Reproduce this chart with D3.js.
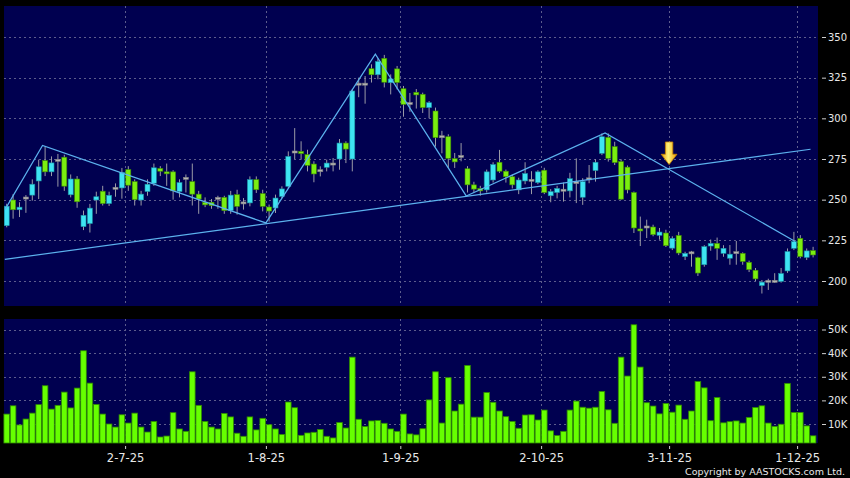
<!DOCTYPE html>
<html>
<head>
<meta charset="utf-8">
<script src="https://cdnjs.cloudflare.com/ajax/libs/d3/7.8.5/d3.min.js"></script>
<style>
body { margin: 0; background: #000; }
text { font-family: "DejaVu Sans", Verdana, sans-serif; fill: #e8e8e8; }
</style>
</head>
<body>
<div id="chart"></div>
<script>
var dates = [
  "4-6-25","5-6-25","6-6-25","9-6-25","10-6-25","11-6-25","12-6-25","13-6-25","16-6-25","17-6-25",
  "18-6-25","19-6-25","20-6-25","23-6-25","24-6-25","25-6-25","26-6-25","27-6-25","30-6-25",
  "2-7-25","3-7-25","4-7-25","7-7-25","8-7-25","9-7-25","10-7-25","11-7-25","14-7-25","15-7-25",
  "16-7-25","17-7-25","18-7-25","21-7-25","22-7-25","23-7-25","24-7-25","25-7-25","28-7-25","29-7-25",
  "30-7-25","31-7-25",
  "1-8-25","4-8-25","5-8-25","6-8-25","7-8-25","8-8-25","11-8-25","12-8-25","13-8-25","14-8-25",
  "15-8-25","18-8-25","19-8-25","20-8-25","21-8-25","22-8-25","25-8-25","26-8-25","27-8-25","28-8-25",
  "29-8-25",
  "1-9-25","2-9-25","3-9-25","4-9-25","5-9-25","8-9-25","9-9-25","10-9-25","11-9-25","12-9-25",
  "15-9-25","16-9-25","17-9-25","18-9-25","19-9-25","22-9-25","23-9-25","24-9-25","25-9-25","26-9-25",
  "29-9-25","30-9-25",
  "2-10-25","3-10-25","6-10-25","8-10-25","9-10-25","10-10-25","13-10-25","14-10-25","15-10-25","16-10-25",
  "17-10-25","20-10-25","21-10-25","22-10-25","23-10-25","24-10-25","27-10-25","28-10-25","30-10-25","31-10-25",
  "3-11-25","4-11-25","5-11-25","6-11-25","7-11-25","10-11-25","11-11-25","12-11-25","13-11-25","14-11-25",
  "17-11-25","18-11-25","19-11-25","20-11-25","21-11-25","24-11-25","25-11-25","26-11-25","27-11-25","28-11-25",
  "1-12-25","2-12-25","3-12-25"
];

var open = [
  234,249.8,243.8,251,252.8,261.5,274,267.1,274.2,276.1,
  253,262.7,233.4,235.3,249.8,255.2,247.6,257,257.2,268.5,
  261.1,249.8,255,260.1,269.2,267.1,267.1,255,263.1,261.1,
  253.4,248.4,248.4,250.8,251.4,243.3,253.1,248,248,262.3,
  253.7,245.5,244.9,252,258.2,279.3,279.7,277.7,271.9,267.8,
  269.9,271.9,275,284.8,275,321,321,330.5,326.8,336.9,
  321.9,330.4,318.2,309.1,316,314.8,306.6,304.5,288.7,288.7,
  275.2,276.6,269,259.1,256.9,256,262.1,273,267.5,264.1,
  256,261.5,261.9,260.5,268.1,252.4,254.4,255.8,255.4,260.5,
  251.5,262.8,267.9,278.5,288.3,282.6,273.4,270,254.4,232,
  233.2,233.2,228.1,229.5,220.2,228,215,217.3,214.3,210,
  221.5,223.1,217,214,217.4,217,211.5,206.6,197.2,199.8,
  199.8,199.8,206.2,220.1,226.2,214.5,218.7
];
var high = [
  247.5,253.4,248.4,252.8,262.5,274.6,282.8,276.6,278.1,277.6,
  265.5,264.5,243.3,247.4,254.9,258.5,254.9,260,269.5,270.6,
  262.5,255.4,262.5,272.2,270.6,272.2,268.1,262.5,265.5,272.2,
  255.4,251.4,250.4,252.4,252.4,255.4,256.1,251,264.3,264.3,
  256.1,247,253.1,258.2,279.7,294,285.9,280.7,273.6,270.5,
  274.6,275.6,287.3,285.9,317.8,325,326,333.2,336.9,339,
  327,332.2,319.9,315.6,318,315.8,310.6,306.6,292.3,290.2,
  278.7,284.8,270.6,261,258.5,268.5,273,280.6,268.5,265.5,
  263.5,273,267.5,268.1,269.6,256.5,258.5,260.5,266.5,275.4,
  263.2,271.3,274.8,290.7,290.7,285.6,274.8,271,255,239.6,
  237.7,234.6,232.6,231.5,227.5,230.2,218,218.5,214.9,222,
  225.5,226.7,222,222.1,224.6,217.6,212.5,208,200.6,201.4,
  204.8,208,220,230.2,228.2,220,221
];
var low = [
  233,238.3,239.3,241.9,249.4,250.4,264.5,264.5,258,255.4,
  251.4,245,231.3,229.8,241.3,246.4,246.1,251.8,250.6,255.4,
  246.4,246.4,252.4,258.5,264.5,258.5,250,251.4,254.4,246.4,
  241.3,245.4,244.4,244.4,241.3,241.3,240.8,243.9,245.9,254.1,
  242.8,236.5,241.8,251,257.2,275,274.6,267.4,260.7,264.3,
  267.4,267.4,268.4,272.5,267.4,313,309,322,324,319,
  314.7,317.8,301,304,306,303.3,300,282.6,278.5,269.5,
  269.5,273.6,254.4,254.4,252.4,254.4,260.5,266.5,260.5,256.9,
  253.4,259.5,253.4,259.5,253.4,248.4,250.8,248.8,251.4,247.9,
  246.8,260.1,261.1,277.4,273.4,271.3,249.9,253.9,229.5,221.5,
  226.4,227.5,225.4,220.9,219,215.9,212.9,208.8,203.1,208.8,
  218.6,213,214.9,210,210,210,205.5,200,192.3,194.5,
  198.8,199,205,219,213.9,212.9,214.5
];
var close = [
  246,243.8,245.4,251,259.5,270.2,267.1,272.6,274.2,258.3,
  262.7,248.7,240.4,244.8,251.8,247.6,252.7,257,266.8,258.9,
  250,253.4,259.5,269.6,267.5,265.9,255.4,260.5,263.1,253.4,
  250.4,246.8,246.4,250.8,243.3,252.8,245.9,248,262.3,256.1,
  245.9,243,251,256.6,276.6,279.3,278.3,271.1,265.8,267.8,
  272.5,271.9,284.8,281.1,316.8,321,321,326.8,334.9,322.2,
  324.2,322,308.6,309.1,314.4,306.6,309.6,288.1,288.7,275.4,
  273.2,276.6,259.1,256.5,255.4,267.1,271.6,267.5,264.1,259.1,
  262.1,266.1,261.9,267.1,254.4,255,256.9,255.8,262.9,260.5,
  261.1,262.8,273,288.7,275.4,272.8,250.3,256,232.6,231,
  233.2,228.5,230.1,221.7,226.2,217.2,217,217.3,204.9,221.1,
  223.1,220.1,220.1,216.5,217.4,212,207,201.3,199.3,199.8,
  199.8,204.6,218.1,224.2,215,218.5,216
];
// volume in thousands
var volume = [
  14.2,17.7,9.6,12.1,14.6,18.2,26.2,16.3,17.9,23.5,
  16.8,25.2,41,27.3,18.3,14.2,10,8.7,13.9,10.4,
  14.6,8.7,6.6,11.1,4.5,4.9,14.8,7.9,6.9,32.1,
  17.9,11.1,8.7,7.9,14.5,13,6.1,4.8,13,7.5,
  12.4,9.7,7.9,5.6,19.3,16.9,5.2,6.2,6.5,7.7,
  4.8,4.1,10.6,8.3,38.3,12,8.9,11.3,11.5,10.3,
  7.9,6.9,14.2,5.8,5.4,8,20.2,32.1,10.4,29.6,
  15.5,18.4,34.8,12.9,12.9,23.3,19.2,15.5,13.1,11.1,
  8.2,13.8,13.9,11.7,15.9,7.1,5.1,6.9,15.9,19.7,
  17.1,16.7,17.1,23.8,16,10.3,38.3,30.3,52,34.1,
  19,17.6,14.3,18.7,15,18,12,15.5,28,25.3,
  11.4,21.2,10.5,11,11.3,10.4,12.8,17,17.7,10.4,
  9,9.9,27.2,14.9,14.9,9.2,5
];

var tickDates = ["2-7-25","1-8-25","1-9-25","2-10-25","3-11-25","1-12-25"];
var priceTicks = [200,225,250,275,300,325,350];
var volTicks = [10,20,30,40,50];

// hand drawn lines, as [bar index, price]
var zigzag = [[-0.25,244],[5.6,283.3],[40.5,235.7],[57.6,339.5],[71.8,252.3],[93.5,291],[123.2,224.3]];
var support = [[-0.3,213.3],[125.6,281]];
var arrowIndex = 103.5;

var width = 850, height = 478;
var left = 4, right = 818;
var pTop = 6, pBottom = 306, vTop = 319, vBottom = 443;

var data = dates.map(function(d, i) {
  return {date: d, i: i, o: open[i], h: high[i], l: low[i], c: close[i], v: volume[i]};
});

var x = d3.scaleLinear().domain([0, data.length - 1]).range([6.7, 813.1]);
var yP = d3.scaleLinear().domain([200, 350]).range([281, 37]);
var yV = d3.scaleLinear().domain([10, 50]).range([424, 329.5]);

var tickIdx = tickDates.map(function(t) { return dates.indexOf(t) - 0.5; });

var svg = d3.select("#chart")
  .append("svg")
    .attr("width", width)
    .attr("height", height)
    .style("background", "#000");

var defs = svg.append("defs");
defs.append("clipPath").attr("id", "clipP")
  .append("rect").attr("x", left).attr("y", pTop).attr("width", right - left).attr("height", pBottom - pTop);

var grad = defs.append("linearGradient").attr("id", "arrowGrad")
  .attr("x1", "0%").attr("x2", "100%").attr("y1", "0%").attr("y2", "0%");
grad.append("stop").attr("offset", "0%").attr("stop-color", "#e89a00");
grad.append("stop").attr("offset", "45%").attr("stop-color", "#fff27a");
grad.append("stop").attr("offset", "100%").attr("stop-color", "#e89a00");

// panels
svg.append("rect").attr("x", left).attr("y", pTop).attr("width", right - left).attr("height", pBottom - pTop)
  .attr("fill", "#000050");
svg.append("rect").attr("x", left).attr("y", vTop).attr("width", right - left).attr("height", vBottom - vTop)
  .attr("fill", "#000050");

// grid
var grid = svg.append("g")
  .attr("stroke", "#5c5c8c")
  .attr("stroke-width", 1)
  .attr("stroke-dasharray", "2,3");

grid.selectAll(".hp").data(priceTicks).enter().append("line")
  .attr("x1", left).attr("x2", right)
  .attr("y1", function(d) { return Math.round(yP(d)) + 0.5; })
  .attr("y2", function(d) { return Math.round(yP(d)) + 0.5; });
grid.selectAll(".hv").data(volTicks).enter().append("line")
  .attr("x1", left).attr("x2", right)
  .attr("y1", function(d) { return Math.round(yV(d)) + 0.5; })
  .attr("y2", function(d) { return Math.round(yV(d)) + 0.5; });
grid.selectAll(".vp").data(tickIdx).enter().append("line")
  .attr("x1", function(d) { return Math.round(x(d)) + 0.5; })
  .attr("x2", function(d) { return Math.round(x(d)) + 0.5; })
  .attr("y1", pTop).attr("y2", pBottom);
grid.selectAll(".vv").data(tickIdx).enter().append("line")
  .attr("x1", function(d) { return Math.round(x(d)) + 0.5; })
  .attr("x2", function(d) { return Math.round(x(d)) + 0.5; })
  .attr("y1", vTop).attr("y2", vBottom);

// volume bars
svg.append("g")
  .selectAll("rect")
    .data(data)
    .enter()
      .append("rect")
      .attr("x", function(d) { return x(d.i) - 2.8; })
      .attr("y", function(d) { return yV(d.v); })
      .attr("width", 5.6)
      .attr("height", function(d) { return vBottom - yV(d.v); })
      .attr("fill", "#66ff00")
      .attr("stroke", "#2f8a00")
      .attr("stroke-width", 0.8);

// candles
var candles = svg.append("g").attr("clip-path", "url(#clipP)");

candles.selectAll(".wick")
  .data(data)
  .enter()
    .append("line")
    .attr("x1", function(d) { return x(d.i); })
    .attr("x2", function(d) { return x(d.i); })
    .attr("y1", function(d) { return yP(d.h); })
    .attr("y2", function(d) { return yP(d.l); })
    .attr("stroke", "#9a9aa6")
    .attr("stroke-width", 1);

candles.selectAll(".body")
  .data(data)
  .enter()
    .append("rect")
    .attr("x", function(d) { return x(d.i) - 2.5; })
    .attr("width", 5)
    .attr("y", function(d) { return d.o == d.c ? yP(d.c) - 1 : yP(Math.max(d.o, d.c)); })
    .attr("height", function(d) { return Math.max(2, Math.abs(yP(d.o) - yP(d.c))); })
    .attr("fill", function(d) { return d.c > d.o ? "#3ee4f2" : d.c < d.o ? "#7aee10" : "#b4b4b4"; })
    .attr("stroke", function(d) { return d.c > d.o ? "#1b8fa0" : d.c < d.o ? "#3d8a00" : "#808080"; })
    .attr("stroke-width", 0.6);

// trend lines
var line = d3.line()
  .x(function(d) { return x(d[0]); })
  .y(function(d) { return yP(d[1]); });

candles.append("path").datum(zigzag)
  .attr("d", line)
  .attr("fill", "none")
  .attr("stroke", "#5cb2ee")
  .attr("stroke-width", 1.2);
candles.append("path").datum(support)
  .attr("d", line)
  .attr("fill", "none")
  .attr("stroke", "#5cb2ee")
  .attr("stroke-width", 1.2);

// arrow above the crossing point
var s0 = support[0], s1 = support[1];
var crossPrice = s0[1] + (arrowIndex - s0[0]) * (s1[1] - s0[1]) / (s1[0] - s0[0]);
var ax = x(arrowIndex), ay = yP(crossPrice) - 4;
svg.append("path")
  .attr("d", "M" + ax + "," + ay +
    "l-7.9,-10.3 h4.2 v-12.3 h7.4 v12.3 h4.2 z")
  .attr("fill", "url(#arrowGrad)")
  .attr("stroke", "#c98400")
  .attr("stroke-width", 0.8);

// axes
var pAxis = svg.append("g")
  .attr("transform", "translate(" + (right + 4) + ",0)")
  .call(d3.axisRight(yP).tickValues(priceTicks).tickSize(4).tickPadding(2));
var vAxis = svg.append("g")
  .attr("transform", "translate(" + (right + 4) + ",0)")
  .call(d3.axisRight(yV).tickValues(volTicks).tickSize(4).tickPadding(2)
    .tickFormat(function(d) { return d + "K"; }));
[pAxis, vAxis].forEach(function(a) {
  a.select(".domain").remove();
  a.selectAll("line").attr("stroke", "#cfcfcf");
  a.selectAll("text").attr("fill", "#e8e8e8").style("font-size", "10px").attr("font-family", null);
});

var xAxis = svg.append("g")
  .attr("transform", "translate(0," + (vBottom + 3) + ")")
  .call(d3.axisBottom(x).tickValues(tickIdx).tickSize(3).tickPadding(5)
    .tickFormat(function(d) { return dates[d + 0.5]; }));
xAxis.select(".domain").remove();
xAxis.selectAll("line").attr("stroke", "#cfcfcf");
xAxis.selectAll("text").attr("fill", "#e8e8e8").style("font-size", "11.5px").attr("font-family", null);

svg.append("text")
  .attr("x", 845)
  .attr("y", 474.5)
  .attr("text-anchor", "end")
  .style("font-size", "9.5px")
  .text("Copyright by AASTOCKS.com Ltd.");
</script>
</body>
</html>
